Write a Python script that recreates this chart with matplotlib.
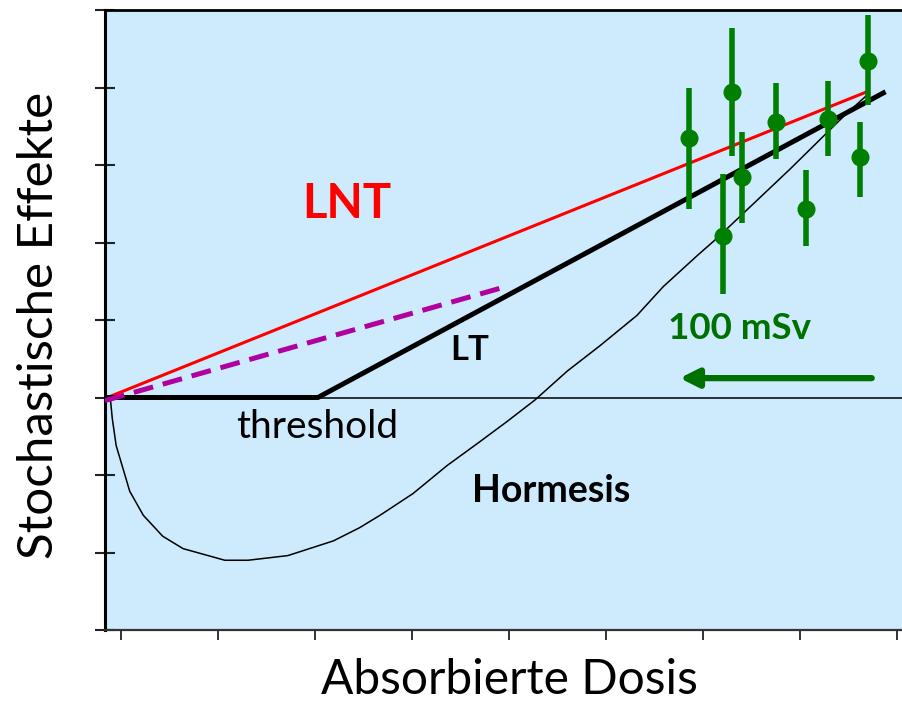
import matplotlib
matplotlib.use("Agg")
import matplotlib.pyplot as plt
import numpy as np

# ---------------- data ----------------
lnt_x = [-0.14, 7.70]
lnt_y = [0.00, 3.95]

lt_x = [-0.14, 2.03, 7.86]
lt_y = [0.00, 0.00, 3.93]

dashed_x = [-0.165, 3.91]
dashed_y = [-0.04, 1.41]

baseline_x = [-0.14, 8.06]
baseline_y = [0.0, 0.0]

horm_x = [-0.11, -0.09, -0.05, 0.09, 0.23, 0.43, 0.64, 1.07, 1.31, 1.72, 2.19, 2.46,
          2.67, 3.01, 3.36, 3.70, 3.98, 4.27, 4.60, 4.94, 5.32, 5.59, 5.94, 6.14,
          6.90, 7.46, 7.69]
horm_y = [-0.01, -0.27, -0.62, -1.21, -1.52, -1.79, -1.95, -2.10, -2.10, -2.04, -1.85, -1.68,
          -1.52, -1.24, -0.88, -0.57, -0.31, -0.03, 0.34, 0.67, 1.06, 1.43, 1.83, 2.05,
          2.95, 3.64, 3.90]

pts_x = [5.86, 6.30, 6.40, 6.75, 6.21, 7.06, 7.29, 7.62, 7.70]
pts_y = [3.35, 3.94, 2.84, 3.55, 2.09, 2.43, 3.60, 3.10, 4.34]
pts_top = [3.99, 4.77, 3.42, 4.06, 2.89, 2.93, 4.09, 3.56, 4.94]
pts_bot = [2.43, 3.12, 2.25, 3.08, 1.33, 1.96, 3.11, 2.59, 3.78]

arrow_start = (7.74, 0.25)
arrow_end = (5.76, 0.25)

xticks = [0, 1, 2, 3, 4, 5, 6, 7, 8]
yticks = [-3, -2, -1, 0, 1, 2, 3, 4, 5]

# ---------------- figure ----------------
W, H = 902, 703
fig = plt.figure(figsize=(W / 100, H / 100), dpi=100)
ax = fig.add_axes([105 / W, 73 / H, 797 / W, 620 / H])
ax.set_facecolor("#cdebfd")
ax.set_xlim(-0.165, 8.052)
ax.set_ylim(-3, 5)

font = "Lato"

ax.plot(baseline_x, baseline_y, color="black", lw=1.1, zorder=2)
ax.plot(horm_x, horm_y, color="black", lw=1.1, zorder=2)
ax.plot(lnt_x, lnt_y, color="#ff0000", lw=2.2, zorder=3, solid_capstyle="butt")
ax.plot(lt_x, lt_y, color="black", lw=3.6, zorder=3, solid_joinstyle="miter")
ax.plot(dashed_x, dashed_y, color="#b000a0", lw=3.6, linestyle=(0, (4, 2)), zorder=4)

py = np.array(pts_y)
yerr = np.vstack([py - np.array(pts_bot), np.array(pts_top) - py])
ax.errorbar(pts_x, pts_y, yerr=yerr, fmt="o", color="#007f00", ms=12,
            elinewidth=4, capsize=0, zorder=5)

ax.annotate("", xy=arrow_end, xytext=arrow_start,
            arrowprops=dict(arrowstyle="-|>,head_length=1.1,head_width=0.55",
                            color="#007000", lw=4.5, shrinkA=0, shrinkB=0),
            zorder=5)

ax.text(2.33, 2.31, "LNT", color="#ff0000", fontsize=34, fontweight="bold",
        ha="center", va="baseline", family=font)
ax.text(3.60, 0.48, "LT", color="black", fontsize=25, fontweight="bold",
        ha="center", va="baseline", family=font)
ax.text(4.43, -1.35, "Hormesis", color="black", fontsize=27, fontweight="bold",
        ha="center", va="baseline", family=font)
ax.text(2.02, -0.52, "threshold", color="black", fontsize=28,
        ha="center", va="baseline", family=font)
ax.text(6.38, 0.75, "100 mSv", color="#007000", fontsize=26.5, fontweight="bold",
        ha="center", va="baseline", family=font)

ax.set_xticks(xticks)
ax.set_yticks(yticks)
ax.set_xticklabels([])
ax.set_yticklabels([])
ax.tick_params(axis="y", direction="inout", length=15, width=1.5, color="#222222")
ax.tick_params(axis="x", direction="out", length=7, width=1.3, color="#222222", pad=2)

ax.spines["right"].set_visible(False)
ax.spines["left"].set_linewidth(2.2)
ax.spines["top"].set_linewidth(2.0)
ax.spines["bottom"].set_linewidth(1.6)
ax.spines["bottom"].set_color("#333333")

fig.text(509 / W, 0.002, "Absorbierte Dosis", fontsize=34.5, family=font,
         ha="center", va="bottom")
fig.text(39 / W, 1 - 325 / H, "Stochastische Effekte", fontsize=35.5, family=font,
         ha="center", va="center", rotation=90)

fig.savefig("out.png", dpi=100)
